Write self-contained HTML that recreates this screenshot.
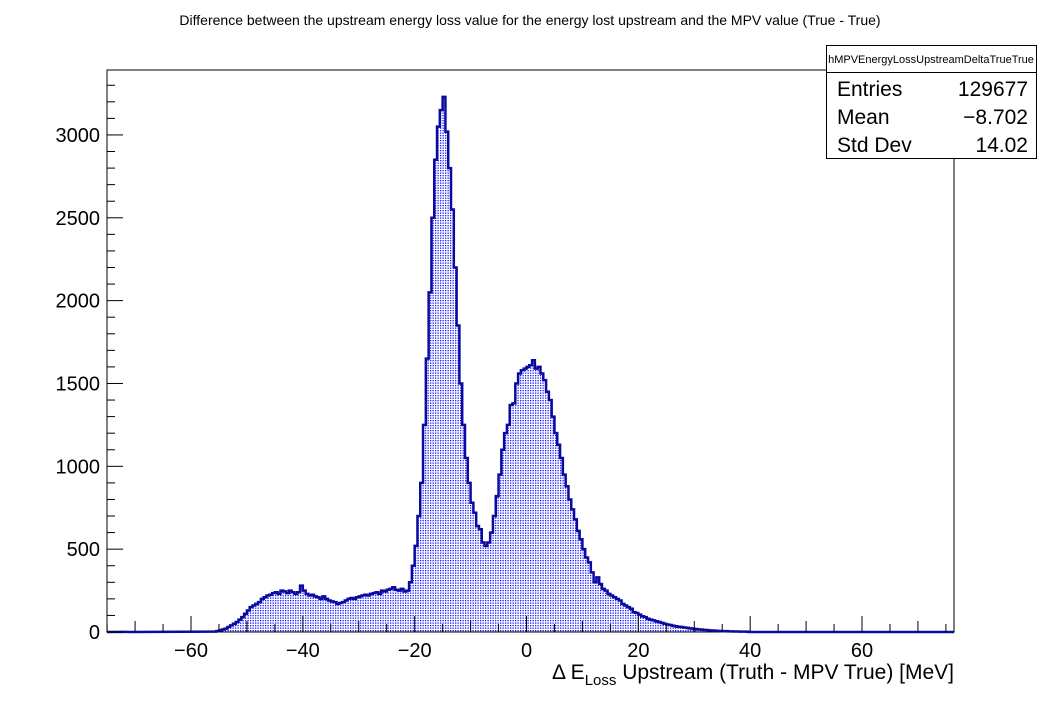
<!DOCTYPE html>
<html><head><meta charset="utf-8"><style>
body{margin:0;background:#fff;width:1060px;height:703px;overflow:hidden;font-family:"Liberation Sans",sans-serif}
</style></head><body>
<svg id="chart" width="1060" height="703" xmlns="http://www.w3.org/2000/svg" font-family="Liberation Sans, sans-serif">
<defs><pattern id="dots" width="2.5" height="2.5" patternUnits="userSpaceOnUse"><rect x="0" y="0" width="1.3" height="1.3" fill="#1a1aff"/></pattern></defs>
<text x="530" y="25" font-size="14" text-anchor="middle">Difference between the upstream energy loss value for the energy lost upstream and the MPV value (True - True)</text>
<rect x="107" y="70" width="847" height="562" fill="none" stroke="#000" stroke-width="1"/>
<g id="hist"></g>
<g id="axes"></g>
<text x="954" y="679" font-size="21" text-anchor="end">Δ E<tspan font-size="15" dy="6">Loss</tspan><tspan dy="-6"> Upstream (Truth - MPV True) [MeV]</tspan></text>
<g>
<rect x="826.5" y="45.5" width="210" height="113" fill="#fff" stroke="#000"/>
<line x1="826" y1="72.5" x2="1036" y2="72.5" stroke="#000"/>
<text x="931" y="63" font-size="11" text-anchor="middle">hMPVEnergyLossUpstreamDeltaTrueTrue</text>
<text x="837" y="96" font-size="21">Entries</text><text x="1028" y="96" font-size="21" text-anchor="end">129677</text>
<text x="837" y="124" font-size="21">Mean</text><text x="1028" y="124" font-size="21" text-anchor="end">−8.702</text>
<text x="837" y="152" font-size="21">Std Dev</text><text x="1028" y="152" font-size="21" text-anchor="end">14.02</text>
</g>
</svg>
<script>
const binStart = -56;
const binWidth = 0.5;
const counts = [2,5,10,15,20,30,40,50,60,75,90,110,
130,150,160,170,180,200,210,220,225,235,
240,230,250,245,235,250,240,230,240,280,
250,230,220,225,215,210,200,215,200,190,
185,180,170,175,180,190,200,205,200,210,
215,220,225,220,230,235,240,230,250,245,
255,260,270,255,250,260,245,250,300,400,
520,700,900,1250,1650,2050,2500,2850,3050,3150,
3230,3020,2800,2550,2200,1850,1500,1250,1050,900,
780,720,640,620,540,520,540,600,700,820,
950,1100,1200,1250,1370,1380,1500,1560,1580,1590,
1600,1610,1640,1590,1600,1560,1520,1450,1400,1300,
1200,1130,1050,950,880,800,740,680,610,560,
500,450,420,360,300,330,290,260,250,230,
220,210,200,190,170,160,150,140,120,115,
105,95,90,80,75,70,65,60,55,50,
45,42,38,35,32,30,27,25,22,20,
18,16,15,13,12,10,9,8,7,6,
5,5,4,4,3,3,2,2,2,1];
const xTicks = [-60,-40,-20,0,20,40,60];
const yTicks = [0,500,1000,1500,2000,2500,3000];
const X0=107,X1=954,Y0=632,Y1=70, xmin=-75.02, xmax=76.45, ymin=0, ymax=3392;
const sx=v=>X0+(v-xmin)/(xmax-xmin)*(X1-X0);
const sy=v=>Y0-(v-ymin)/(ymax-ymin)*(Y0-Y1);
const NS="http://www.w3.org/2000/svg";
function mk(t,a,p){const e=document.createElementNS(NS,t);for(const k in a)e.setAttribute(k,a[k]);p.appendChild(e);return e;}
const hg=document.getElementById('hist');
let d=`M${sx(xmin)},${sy(0)}`;
counts.forEach((c,i)=>{const a=sx(binStart+i*binWidth),b=sx(binStart+(i+1)*binWidth);d+=` L${a},${sy(c)} L${b},${sy(c)}`;});
d+=` L${sx(binStart+counts.length*binWidth)},${sy(0)} L${sx(xmax)},${sy(0)}`;
const fill=mk('path',{d:d+' Z',fill:'url(#dots)',stroke:'none'},hg);


const line=mk('path',{d:d,fill:'none',stroke:'#0a0aa0','stroke-width':2.5},hg);


const ax=document.getElementById('axes');
for(let v=-75;v<=75;v+=5){const x=sx(v);const maj=v%20===0;const len=maj?16:(v%10===0?11:8);
 const t=mk('line',{x1:x,x2:x,y1:Y0,y2:Y0-len,stroke:'#000'},ax);
 
 }
xTicks.forEach(v=>{const t=mk('text',{x:sx(v),y:Y0+25,'font-size':20,'text-anchor':'middle'},ax);t.textContent=v<0?'−'+(-v):v;
 
 });
for(let v=0;v<=3300;v+=100){const y=sy(v);const len=v%500===0?16:8;
 const t=mk('line',{x1:X0,x2:X0+len,y1:y,y2:y,stroke:'#000'},ax);
 
 }
yTicks.forEach(v=>{const t=mk('text',{x:100,y:sy(v)+7,'font-size':20,'text-anchor':'end'},ax);t.textContent=v;
 
 });
</script>
</body></html>
